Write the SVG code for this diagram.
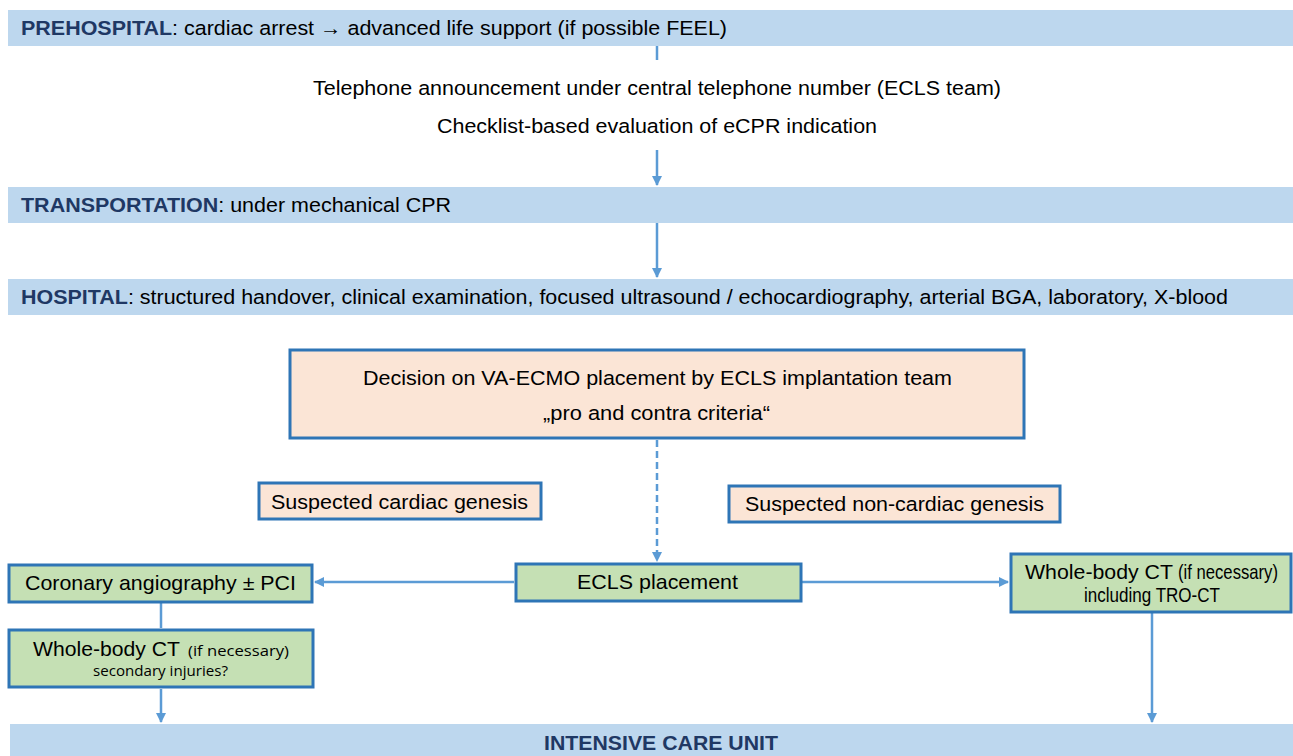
<svg xmlns="http://www.w3.org/2000/svg" width="1293" height="756" viewBox="0 0 1293 756">
<defs>
<style>
.band{fill:#BDD7EE;}
.bt{font-family:"Liberation Sans",Arial,sans-serif;font-size:20.5px;fill:#000;}
.hd{font-weight:bold;fill:#1F3864;}
.peach{fill:#FBE5D6;stroke:#2E75B6;stroke-width:3;}
.green{fill:#C5E0B4;stroke:#2E75B6;stroke-width:3;}
.nt{font-family:"Liberation Sans",Arial,sans-serif;font-size:21px;fill:#000;}
.sm{font-family:"Open Sans","Liberation Sans",sans-serif;font-size:15px;fill:#000;}
.con{stroke:#5B9BD5;stroke-width:2.5;fill:none;}
</style>
<marker id="ah" viewBox="0 0 10 10" refX="9" refY="5" markerWidth="4" markerHeight="4" orient="auto" markerUnits="strokeWidth">
<path d="M0,0 L10,5 L0,10 z" fill="#5B9BD5"/>
</marker>
</defs>
<rect width="1293" height="756" fill="#fff"/>

<g id="connectors">
<line class="con" x1="657" y1="46" x2="657" y2="60"/>
<line class="con" x1="657" y1="150" x2="657" y2="185" marker-end="url(#ah)"/>
<line class="con" x1="657" y1="223" x2="657" y2="277" marker-end="url(#ah)"/>
<line class="con" x1="657" y1="440" x2="657" y2="561" stroke-dasharray="7,4" marker-end="url(#ah)"/>
<line class="con" x1="514" y1="582" x2="315" y2="582" marker-end="url(#ah)"/>
<line class="con" x1="802" y1="582" x2="1008" y2="582" marker-end="url(#ah)"/>
<line class="con" x1="161" y1="603" x2="161" y2="628"/>
<line class="con" x1="161" y1="689" x2="161" y2="722" marker-end="url(#ah)"/>
<line class="con" x1="1152" y1="613" x2="1152" y2="722" marker-end="url(#ah)"/>
</g>

<g id="prehospital">
<rect class="band" x="8" y="10" width="1285" height="36"/>
<text class="bt" x="21" y="35" textLength="706" lengthAdjust="spacingAndGlyphs"><tspan class="hd">PREHOSPITAL</tspan>: cardiac arrest → advanced life support (if possible FEEL)</text>
</g>

<g id="telephone">
<text class="bt" x="657" y="95" text-anchor="middle" textLength="688" lengthAdjust="spacingAndGlyphs">Telephone announcement under central telephone number (ECLS team)</text>
</g>
<g id="checklist">
<text class="bt" x="657" y="133" text-anchor="middle" textLength="440" lengthAdjust="spacingAndGlyphs">Checklist-based evaluation of eCPR indication</text>
</g>

<g id="transportation">
<rect class="band" x="8" y="187" width="1285" height="36"/>
<text class="bt" x="21" y="212" textLength="430" lengthAdjust="spacingAndGlyphs"><tspan class="hd">TRANSPORTATION</tspan>: under mechanical CPR</text>
</g>

<g id="hospital">
<rect class="band" x="8" y="279" width="1285" height="36"/>
<text class="bt" x="21" y="304" textLength="1207" lengthAdjust="spacingAndGlyphs"><tspan class="hd">HOSPITAL</tspan>: structured handover, clinical examination, focused ultrasound / echocardiography, arterial BGA, laboratory, X-blood</text>
</g>

<g id="decision">
<rect class="peach" x="290" y="350" width="734" height="88"/>
<text class="bt" x="657.5" y="385" text-anchor="middle" textLength="589" lengthAdjust="spacingAndGlyphs">Decision on VA-ECMO placement by ECLS implantation team</text>
<text class="bt" x="656.5" y="420" text-anchor="middle" textLength="227" lengthAdjust="spacingAndGlyphs">„pro and contra criteria“</text>
</g>

<g id="cardiac">
<rect class="peach" x="259" y="483" width="282" height="36"/>
<text class="bt" x="399.5" y="509" text-anchor="middle" textLength="257" lengthAdjust="spacingAndGlyphs">Suspected cardiac genesis</text>
</g>

<g id="noncardiac">
<rect class="peach" x="729" y="486" width="331" height="36"/>
<text class="bt" x="894.5" y="511" text-anchor="middle" textLength="299" lengthAdjust="spacingAndGlyphs">Suspected non-cardiac genesis</text>
</g>

<g id="ecls">
<rect class="green" x="516" y="564" width="285" height="37"/>
<text class="nt" x="577" y="589" textLength="161" lengthAdjust="spacingAndGlyphs">ECLS placement</text>
</g>

<g id="coronary">
<rect class="green" x="9" y="565" width="303" height="37"/>
<text class="nt" x="25" y="590" textLength="271" lengthAdjust="spacingAndGlyphs">Coronary angiography ± PCI</text>
</g>

<g id="ct-left">
<rect class="green" x="9" y="630" width="304" height="57"/>
<text class="nt" x="33" y="656" textLength="147" lengthAdjust="spacingAndGlyphs">Whole-body CT</text>
<text class="sm" x="188" y="656" font-size="16" textLength="101" lengthAdjust="spacingAndGlyphs">(if necessary)</text>
<text class="sm" x="93" y="676" textLength="135" lengthAdjust="spacingAndGlyphs">secondary injuries?</text>
</g>

<g id="ct-right">
<rect class="green" x="1011" y="554" width="280" height="58"/>
<text class="nt" x="1025" y="579" textLength="148" lengthAdjust="spacingAndGlyphs">Whole-body CT</text>
<text class="nt" x="1178" y="579" font-size="16" textLength="100" lengthAdjust="spacingAndGlyphs">(if necessary)</text>
<text class="nt" x="1084" y="602" font-size="17.5" textLength="136" lengthAdjust="spacingAndGlyphs">including TRO-CT</text>
</g>

<g id="icu">
<rect class="band" x="10" y="724" width="1283" height="32"/>
<text class="bt hd" x="544" y="750" font-size="19.5" textLength="234" lengthAdjust="spacingAndGlyphs">INTENSIVE CARE UNIT</text>
</g>
</svg>
